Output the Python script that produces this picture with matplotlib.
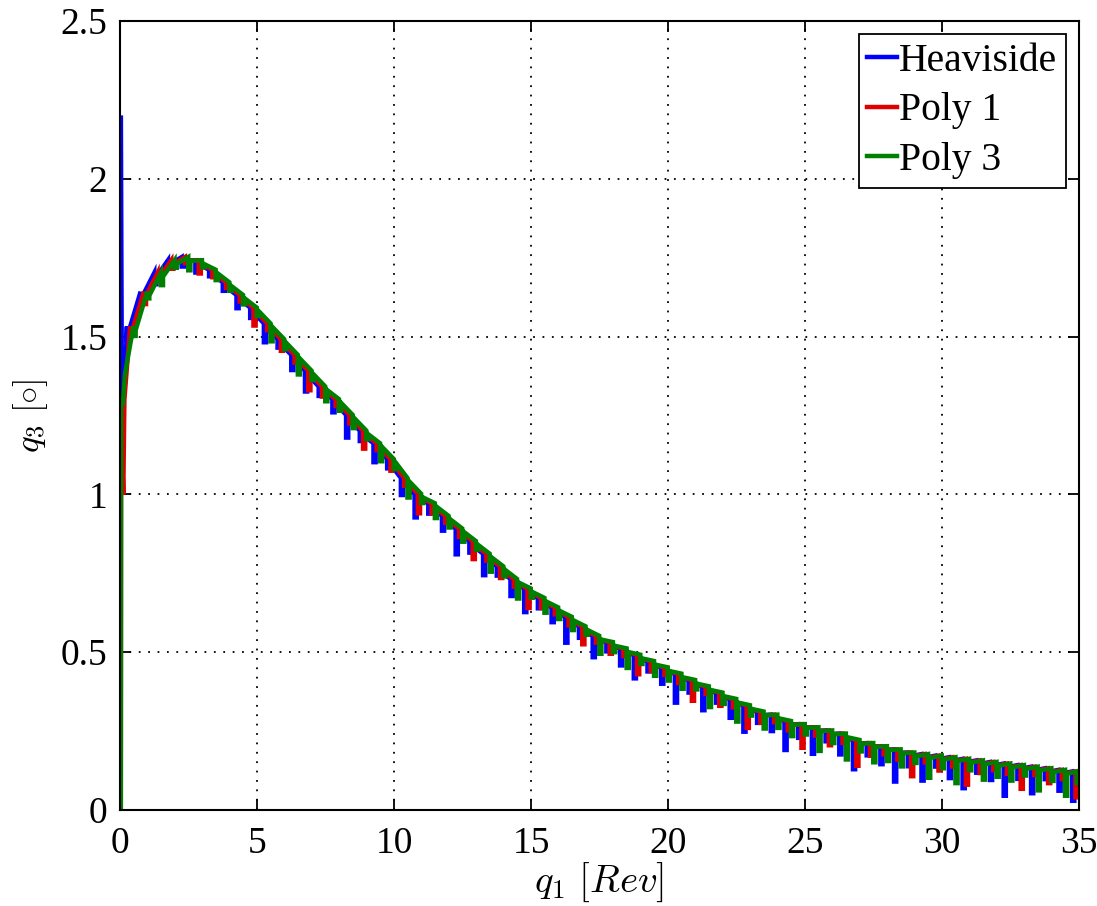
import numpy as np
import matplotlib
matplotlib.use("Agg")
import matplotlib.pyplot as plt

plt.rcParams["font.family"] = ["Liberation Serif", "DejaVu Serif"]
plt.rcParams["mathtext.fontset"] = "cm"

# ---- data -------------------------------------------------------------
series_names = ["Heaviside", "Poly 1", "Poly 3"]
series_colors = ["#0000ff", "#e00000", "#008000"]

# start-up transient of each run (q1 [Rev], q3 [deg])
onset_q1 = {
    "Heaviside": [0.0, 0.02, 0.03, 0.07, 0.12, 0.20],
    "Poly 1":    [0.0, 0.03, 0.04, 0.12, 0.16, 0.25],
    "Poly 3":    [0.0, 0.03, 0.04, 0.10, 0.18, 0.30],
}
onset_q3 = {
    "Heaviside": [0.0, 0.0, 2.20, 1.30, 1.34, 1.40],
    "Poly 1":    [0.0, 0.0, 1.25, 1.00, 1.30, 1.40],
    "Poly 3":    [0.0, 0.0, 1.30, 1.28, 1.38, 1.44],
}

# mean response sampled every half revolution, q1 = 0.5 ... 35
q3_mean = [
    1.52, 1.63, 1.69, 1.73, 1.74, 1.73, 1.70, 1.66, 1.62, 1.58,
    1.53, 1.48, 1.43, 1.38, 1.33, 1.29, 1.24, 1.19, 1.15, 1.10,
    1.04, 0.99, 0.96, 0.92, 0.88, 0.84, 0.80, 0.76, 0.72, 0.69,
    0.66, 0.63, 0.60, 0.57, 0.54, 0.52, 0.50, 0.48, 0.46, 0.44,
    0.42, 0.40, 0.38, 0.36, 0.34, 0.32, 0.30, 0.29, 0.27, 0.26,
    0.25, 0.24, 0.23, 0.21, 0.20, 0.19, 0.18, 0.17, 0.165, 0.16,
    0.155, 0.15, 0.145, 0.14, 0.135, 0.13, 0.125, 0.12, 0.115, 0.11,
]

# largest dip below the mean, per 5-Rev stretch of q1
dip_depth = {
    "Heaviside": [0.03, 0.06, 0.07, 0.07, 0.08, 0.09, 0.09],
    "Poly 1":    [0.03, 0.05, 0.05, 0.05, 0.06, 0.07, 0.07],
    "Poly 3":    [0.03, 0.05, 0.05, 0.05, 0.06, 0.07, 0.07],
}
# relative size of successive dips (repeats along q1)
dip_pattern = {
    "Heaviside": [1.0, 0.35, 0.8, 0.25, 0.6, 0.9, 0.3, 0.5],
    "Poly 1":    [0.3, 0.9, 0.2, 0.5, 0.25, 1.0, 0.4, 0.2],
    "Poly 3":    [0.6, 0.3, 0.9, 0.4, 1.0, 0.35, 0.7, 0.5],
}
dip_shift = {"Heaviside": 0.0, "Poly 1": 0.12, "Poly 3": 0.24}

x_ticks = [0, 5, 10, 15, 20, 25, 30, 35]
y_ticks = [0, 0.5, 1, 1.5, 2, 2.5]


def build_path(name):
    xs = list(onset_q1[name])
    ys = list(onset_q3[name])
    grid = np.linspace(0.5, 35.0, len(q3_mean))
    depths = dip_depth[name]
    pattern = dip_pattern[name]
    s = dip_shift[name]
    for k, (xg, yg) in enumerate(zip(grid, q3_mean)):
        xk = min(max(xg - 0.25 + s, xs[-1] + 0.02), 34.92)
        d = depths[min(int(xg // 5), len(depths) - 1)] * pattern[k % len(pattern)]
        xs += [xk, xk, xk + 0.08, xk + 0.08]
        ys += [yg + 0.012, yg - d, yg - d, yg]
    return np.array(xs), np.array(ys)


# ---- figure -----------------------------------------------------------
fig = plt.figure(figsize=(10.97, 9.06), dpi=100)
ax = fig.add_axes([0.1094, 0.106, 0.8742, 0.8708])

for name, color in zip(series_names, series_colors):
    x, y = build_path(name)
    ax.plot(x, y, color=color, lw=3.2, label=name, solid_joinstyle="miter")

ax.set_xlim(0, 35)
ax.set_ylim(0, 2.5)
ax.set_xticks(x_ticks)
ax.set_yticks(y_ticks)
ax.set_xticklabels([f"{t:g}" for t in x_ticks])
ax.set_yticklabels([f"{t:g}" for t in y_ticks])

ax.grid(True, color="black", linestyle=(0, (1, 4.2)), linewidth=1.3)
ax.tick_params(direction="in", length=8, width=1.3, top=True, right=True,
               labelsize=27, pad=9, colors="black")
ax.tick_params(axis="x", pad=12)
for sp in ax.spines.values():
    sp.set_linewidth(1.5)
    sp.set_color("black")

ax.set_xlabel(r"$q_1\ [Rev]$", fontsize=28, labelpad=0)
ax.set_ylabel(r"$q_3\ [\circ]$", fontsize=25, labelpad=8)

leg = ax.legend(loc="upper right", fontsize=28.5, handlelength=0.75,
                handletextpad=0.05, labelspacing=0.32, borderpad=0.22,
                borderaxespad=0.33, fancybox=False, framealpha=1,
                edgecolor="black")
leg.get_frame().set_linewidth(1.3)

fig.savefig("out.png", dpi=100)
